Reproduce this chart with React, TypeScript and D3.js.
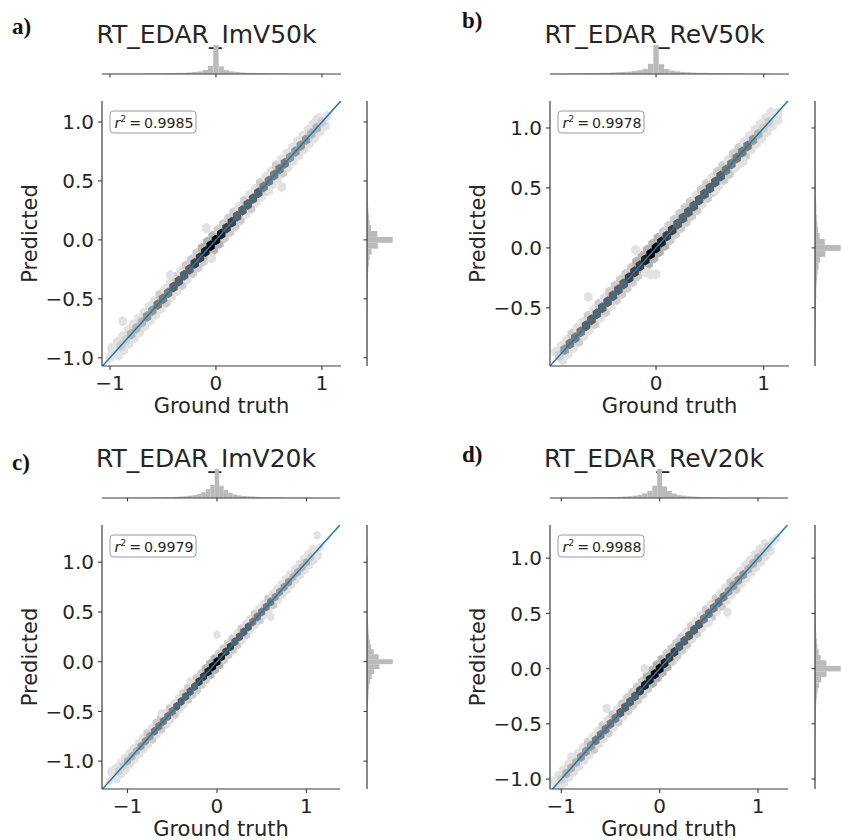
import React from "react";
import * as d3 from "d3";

// ---------- shared bin centres (histogram bins / hexbin columns along the diagonal) ----------
const binCenters = [
  -1.2, -1.15, -1.1, -1.05, -1.0, -0.95, -0.9, -0.85, -0.8, -0.75,
  -0.7, -0.65, -0.6, -0.55, -0.5, -0.45, -0.4, -0.35, -0.3, -0.25,
  -0.2, -0.15, -0.1, -0.05, 0.0, 0.05, 0.1, 0.15, 0.2, 0.25,
  0.3, 0.35, 0.4, 0.45, 0.5, 0.55, 0.6, 0.65, 0.7, 0.75,
  0.8, 0.85, 0.9, 0.95, 1.0, 1.05, 1.1, 1.15, 1.2, 1.25,
  1.3,
];
const binWidth = 0.05;

// ---------- panel a: RT_EDAR_ImV50k ----------
const titleA = "RT_EDAR_ImV50k";
const r2A = "0.9985";
const limXA = [-1.075, 1.18];
const limYA = [-1.07, 1.178];
const xTicksA = [-1, 0, 1];
const yTicksA = [-1.0, -0.5, 0.0, 0.5, 1.0];
const histTopA = [
  0, 0, 0, 0, 1, 1, 1, 1, 1, 1,
  1, 2, 2, 2, 2, 3, 3, 4, 4, 5,
  7, 9, 14, 28, 100, 26, 13, 9, 7, 5,
  4, 4, 3, 3, 2, 2, 2, 2, 1, 1,
  1, 1, 1, 1, 1, 0, 0, 0, 0, 0,
  0,
];
const histRightA = [
  0, 0, 0, 0, 1, 1, 1, 1, 1, 1,
  1, 1, 2, 2, 2, 2, 3, 3, 4, 5,
  7, 10, 18, 42, 100, 40, 16, 10, 7, 5,
  4, 3, 3, 2, 2, 2, 2, 1, 1, 1,
  1, 1, 1, 1, 1, 0, 0, 0, 0, 0,
  0,
];
const coreA = [
  0, 0, 0, 0, 1, 1, 2, 2, 3, 3,
  3, 4, 4, 5, 5, 5, 6, 6, 6, 6,
  7, 7, 8, 9, 9, 8, 7, 7, 6, 6,
  6, 6, 6, 5, 5, 5, 5, 5, 4, 4,
  4, 4, 3, 3, 2, 1, 0, 0, 0, 0,
  0,
];
const haloA = [
  0, 0, 0, 0, 0, 1, 1, 1, 1, 1,
  1, 1, 1, 1, 2, 1, 1, 2, 1, 2,
  2, 2, 3, 3, 3, 2, 2, 2, 2, 1,
  2, 1, 1, 2, 1, 1, 2, 1, 1, 1,
  1, 1, 1, 1, 1, 0, 0, 0, 0, 0,
  0,
];
const outliersA = [
  [0.62, 0.45], [-0.43, -0.3], [-0.88, -0.69], [-0.04, -0.155],
  [-0.09, 0.1], [0.95, 1.02], [-0.98, -0.95], [0.5, 0.42],
];

// ---------- panel b: RT_EDAR_ReV50k ----------
const titleB = "RT_EDAR_ReV50k";
const r2B = "0.9978";
const limXB = [-0.985, 1.235];
const limYB = [-0.985, 1.225];
const xTicksB = [0, 1];
const yTicksB = [-0.5, 0.0, 0.5, 1.0];
const histTopB = [
  0, 0, 0, 0, 0, 1, 1, 2, 2, 2,
  2, 3, 3, 3, 4, 4, 5, 6, 7, 8,
  10, 13, 18, 35, 100, 34, 17, 12, 9, 7,
  6, 5, 4, 4, 3, 3, 3, 2, 2, 2,
  2, 1, 1, 1, 1, 1, 0, 0, 0, 0,
  0,
];
const histRightB = [
  0, 0, 0, 0, 0, 1, 1, 1, 2, 2,
  2, 2, 3, 3, 3, 4, 5, 5, 6, 8,
  10, 14, 20, 40, 100, 38, 18, 12, 9, 7,
  5, 5, 4, 3, 3, 3, 2, 2, 2, 2,
  1, 1, 1, 1, 1, 1, 0, 0, 0, 0,
  0,
];
const coreB = [
  0, 0, 0, 0, 0, 0, 2, 4, 5, 5,
  5, 6, 6, 6, 6, 6, 6, 6, 6, 7,
  7, 7, 8, 9, 9, 8, 7, 7, 6, 6,
  6, 6, 6, 6, 6, 6, 6, 5, 5, 5,
  5, 5, 4, 3, 2, 2, 1, 0, 0, 0,
  0,
];
const haloB = [
  0, 0, 0, 0, 0, 0, 1, 1, 1, 2,
  1, 1, 2, 1, 2, 1, 2, 2, 2, 2,
  2, 3, 3, 3, 3, 3, 2, 2, 2, 2,
  2, 2, 1, 2, 2, 1, 2, 2, 1, 2,
  2, 1, 1, 1, 1, 1, 1, 0, 0, 0,
  0,
];
const outliersB = [
  [-0.63, -0.41], [-0.19, -0.02], [-0.05, -0.22], [0.0, -0.22],
  [0.81, 0.72], [0.77, 0.7], [1.13, 1.13], [0.55, 0.48], [-0.1, -0.2],
];

// ---------- panel c: RT_EDAR_ImV20k ----------
const titleC = "RT_EDAR_ImV20k";
const r2C = "0.9979";
const limXC = [-1.285, 1.375];
const limYC = [-1.28, 1.374];
const xTicksC = [-1, 0, 1];
const yTicksC = [-1.0, -0.5, 0.0, 0.5, 1.0];
const histTopC = [
  0, 0, 0, 0, 1, 1, 1, 1, 1, 1,
  2, 2, 2, 3, 3, 4, 5, 6, 8, 10,
  14, 20, 30, 45, 100, 42, 28, 18, 12, 9,
  7, 6, 5, 4, 3, 3, 2, 2, 2, 1,
  1, 1, 1, 1, 1, 1, 0, 0, 0, 0,
  0,
];
const histRightC = [
  0, 0, 0, 0, 1, 1, 1, 1, 1, 1,
  1, 2, 2, 2, 3, 3, 4, 5, 6, 8,
  12, 18, 28, 48, 100, 45, 26, 16, 11, 8,
  6, 5, 4, 3, 3, 2, 2, 2, 1, 1,
  1, 1, 1, 1, 1, 1, 0, 0, 0, 0,
  0,
];
const coreC = [
  1, 1, 2, 2, 3, 3, 3, 4, 4, 4,
  5, 5, 5, 5, 5, 6, 6, 6, 6, 6,
  7, 7, 8, 9, 9, 8, 7, 7, 6, 6,
  6, 6, 5, 5, 5, 5, 5, 4, 4, 4,
  4, 3, 3, 3, 3, 2, 1, 1, 0, 0,
  0,
];
const haloC = [
  0, 1, 1, 1, 1, 1, 1, 1, 1, 2,
  1, 2, 2, 1, 2, 1, 1, 2, 2, 2,
  2, 2, 3, 3, 3, 2, 2, 2, 2, 1,
  2, 1, 1, 2, 1, 1, 2, 1, 1, 1,
  1, 1, 1, 1, 1, 1, 1, 0, 0, 0,
  0,
];
const outliersC = [
  [0.0, 0.27], [1.12, 1.27], [-1.18, -1.1], [-0.62, -0.52],
  [-0.55, -0.62], [0.6, 0.45], [-0.3, -0.2],
];

// ---------- panel d: RT_EDAR_ReV20k ----------
const titleD = "RT_EDAR_ReV20k";
const r2D = "0.9988";
const limXD = [-1.115, 1.305];
const limYD = [-1.09, 1.3];
const xTicksD = [-1, 0, 1];
const yTicksD = [-1.0, -0.5, 0.0, 0.5, 1.0];
const histTopD = [
  0, 0, 0, 0, 1, 1, 1, 1, 1, 1,
  1, 2, 2, 2, 3, 3, 4, 5, 6, 8,
  11, 16, 25, 42, 100, 40, 24, 15, 10, 8,
  6, 5, 4, 3, 3, 2, 2, 2, 1, 1,
  1, 1, 1, 1, 1, 1, 0, 0, 0, 0,
  0,
];
const histRightD = [
  0, 0, 0, 0, 1, 1, 1, 1, 1, 1,
  1, 1, 2, 2, 2, 3, 3, 4, 5, 7,
  10, 15, 24, 45, 100, 44, 22, 14, 9, 7,
  5, 4, 4, 3, 3, 2, 2, 2, 1, 1,
  1, 1, 1, 1, 1, 0, 0, 0, 0, 0,
  0,
];
const coreD = [
  0, 0, 0, 1, 2, 3, 3, 3, 4, 4,
  4, 5, 5, 5, 5, 5, 6, 6, 6, 6,
  7, 8, 8, 9, 9, 8, 7, 7, 6, 6,
  6, 6, 6, 5, 5, 5, 5, 5, 4, 4,
  4, 4, 3, 3, 3, 2, 2, 1, 0, 0,
  0,
];
const haloD = [
  0, 0, 0, 1, 1, 1, 1, 1, 1, 1,
  2, 1, 1, 2, 1, 2, 1, 2, 2, 2,
  2, 2, 3, 3, 3, 3, 2, 2, 2, 2,
  1, 2, 1, 1, 2, 1, 2, 1, 1, 2,
  1, 1, 1, 1, 1, 1, 1, 0, 0, 0,
  0,
];
const outliersD = [
  [0.69, 0.51], [-0.54, -0.36], [-0.15, 0.0], [1.19, 1.18],
  [0.5, 0.42], [-0.9, -0.8],
];

// ---------- layout (pixel positions of each panel) ----------
const layouts = [
  { tag: "a)", x0: 102, x1: 341, yTop: 101, yBot: 366, spineR: 367, tagX: 12, tagY: 34 },
  { tag: "b)", x0: 550, x1: 789, yTop: 101, yBot: 366, spineR: 815, tagX: 462, tagY: 28 },
  { tag: "c)", x0: 102, x1: 340, yTop: 525, yBot: 789, spineR: 367, tagX: 12, tagY: 470 },
  { tag: "d)", x0: 550, x1: 788, yTop: 525, yBot: 789, spineR: 815, tagX: 462, tagY: 462 },
];

const panelData = [
  { title: titleA, r2: r2A, limX: limXA, limY: limYA, xTicks: xTicksA, yTicks: yTicksA, histTop: histTopA, histRight: histRightA, core: coreA, halo: haloA, outliers: outliersA },
  { title: titleB, r2: r2B, limX: limXB, limY: limYB, xTicks: xTicksB, yTicks: yTicksB, histTop: histTopB, histRight: histRightB, core: coreB, halo: haloB, outliers: outliersB },
  { title: titleC, r2: r2C, limX: limXC, limY: limYC, xTicks: xTicksC, yTicks: yTicksC, histTop: histTopC, histRight: histRightC, core: coreC, halo: haloC, outliers: outliersC },
  { title: titleD, r2: r2D, limX: limXD, limY: limYD, xTicks: xTicksD, yTicks: yTicksD, histTop: histTopD, histRight: histRightD, core: coreD, halo: haloD, outliers: outliersD },
];

const FONT = "DejaVu Sans, Verdana, sans-serif";
const INK = "#262626";
const SPINE = "#3c3c3c";
const HIST = "#bababa";
const LINE = "#1f77b4";
const HEX_R = 0.046;
const HALO_OFF = 0.032;

const minus = (s: string) => s.replace("-", "\u2212");
const shade = (level: number) => d3.interpolateGreys(0.1 + (0.9 * level) / 9);

function hexPath(cx: number, cy: number, rx: number, ry: number) {
  const pts = d3.range(6).map((k) => {
    const a = Math.PI / 6 + (Math.PI / 3) * k;
    return [cx + rx * Math.cos(a), cy + ry * Math.sin(a)] as [number, number];
  });
  return (d3.line()(pts) || "") + "Z";
}

function Panel({ d, L, idx }: { d: any; L: any; idx: number }) {
  const x = d3.scaleLinear().domain(d.limX).range([L.x0, L.x1]);
  const y = d3.scaleLinear().domain(d.limY).range([L.yBot, L.yTop]);
  const histBase = L.yTop - 27;
  const hTop = d3.scaleLinear().domain([0, 105]).range([0, 30.5]);
  const wRight = d3.scaleLinear().domain([0, 105]).range([0, 27]);
  const rx = x(HEX_R) - x(0);
  const ry = y(0) - y(HEX_R);
  const clipId = `clip-${idx}`;
  const half = binWidth / 2;
  const [xmin, xmax] = d.limX;
  const [ymin, ymax] = d.limY;
  const lo = Math.max(xmin, ymin);
  const hi = Math.min(xmax, ymax);

  const hexes: any[] = [];
  binCenters.forEach((g, i) => {
    const h = d.halo[i];
    if (h > 0) {
      hexes.push({ gx: g + HALO_OFF, gy: g - HALO_OFF, lv: h, k: `h1-${i}` });
      hexes.push({ gx: g - HALO_OFF, gy: g + HALO_OFF, lv: h, k: `h2-${i}` });
    }
  });
  d.outliers.forEach((p: number[], i: number) => hexes.push({ gx: p[0], gy: p[1], lv: 1, k: `o-${i}` }));
  binCenters.forEach((g, i) => {
    const c = d.core[i];
    if (c > 0) hexes.push({ gx: g, gy: g, lv: c, k: `c-${i}` });
  });

  const fmtY = (v: number) => minus(d3.format(".1f")(v));
  const fmtX = (v: number) => minus(d3.format("d")(v));

  return (
    <g>
      <defs>
        <clipPath id={clipId}>
          <rect x={L.x0} y={L.yTop} width={L.x1 - L.x0} height={L.yBot - L.yTop} />
        </clipPath>
      </defs>

      {/* panel tag */}
      <text x={L.tagX} y={L.tagY} fontFamily="Liberation Serif, Times New Roman, serif" fontWeight="bold" fontSize={23} fill="#111">
        {L.tag}
      </text>

      {/* title */}
      <text x={(L.x0 + L.x1) / 2 - 15} y={histBase - 31} textAnchor="middle" fontFamily={FONT} fontSize={25} fill={INK}>
        {d.title}
      </text>

      {/* top marginal histogram */}
      <g>
        {binCenters.map((c, i) => {
          const a = Math.max(c - half, xmin);
          const b = Math.min(c + half, xmax);
          if (b <= a || d.histTop[i] <= 0) return null;
          const h = hTop(d.histTop[i]);
          return <rect key={i} x={x(a)} y={histBase - h} width={x(b) - x(a)} height={h} fill={HIST} />;
        })}
        <line x1={L.x0} x2={L.x1} y1={histBase} y2={histBase} stroke={SPINE} strokeWidth={1.2} />
        {d.xTicks.map((t: number) => (
          <line key={t} x1={x(t)} x2={x(t)} y1={histBase} y2={histBase + 3.5} stroke={SPINE} strokeWidth={1.1} />
        ))}
      </g>

      {/* right marginal histogram */}
      <g>
        {binCenters.map((c, i) => {
          const a = Math.max(c - half, ymin);
          const b = Math.min(c + half, ymax);
          if (b <= a || d.histRight[i] <= 0) return null;
          const w = wRight(d.histRight[i]);
          return <rect key={i} x={L.spineR} y={y(b)} width={w} height={y(a) - y(b)} fill={HIST} />;
        })}
        <line x1={L.spineR} x2={L.spineR} y1={L.yTop} y2={L.yBot} stroke={SPINE} strokeWidth={1.2} />
        {d.yTicks.map((t: number) => (
          <line key={t} x1={L.spineR - 3.5} x2={L.spineR} y1={y(t)} y2={y(t)} stroke={SPINE} strokeWidth={1.1} />
        ))}
      </g>

      {/* hexbin cells */}
      <g clipPath={`url(#${clipId})`}>
        {hexes.map((hx) => (
          <path key={hx.k} d={hexPath(x(hx.gx), y(hx.gy), rx, ry)} fill={shade(hx.lv)} stroke="none" />
        ))}
        <line x1={x(lo)} y1={y(lo)} x2={x(hi)} y2={y(hi)} stroke={LINE} strokeWidth={1.5} />
      </g>

      {/* spines */}
      <line x1={L.x0} x2={L.x0} y1={L.yTop} y2={L.yBot} stroke={SPINE} strokeWidth={1.2} />
      <line x1={L.x0} x2={L.x1} y1={L.yBot} y2={L.yBot} stroke={SPINE} strokeWidth={1.2} />

      {/* y ticks */}
      {d.yTicks.map((t: number) => (
        <g key={t}>
          <line x1={L.x0 - 4} x2={L.x0} y1={y(t)} y2={y(t)} stroke={SPINE} strokeWidth={1.1} />
          <text x={L.x0 - 8} y={y(t)} dy="0.36em" textAnchor="end" fontFamily={FONT} fontSize={20} fill={INK}>
            {fmtY(t)}
          </text>
        </g>
      ))}
      {/* x ticks */}
      {d.xTicks.map((t: number) => (
        <g key={t}>
          <line x1={x(t)} x2={x(t)} y1={L.yBot} y2={L.yBot + 4} stroke={SPINE} strokeWidth={1.1} />
          <text x={x(t)} y={L.yBot + 24} textAnchor="middle" fontFamily={FONT} fontSize={20} fill={INK}>
            {fmtX(t)}
          </text>
        </g>
      ))}

      {/* axis labels */}
      <text x={(L.x0 + L.x1) / 2} y={L.yBot + 47} textAnchor="middle" fontFamily={FONT} fontSize={21} fill={INK}>
        Ground truth
      </text>
      <text
        transform={`translate(${L.x0 - 72},${(L.yTop + L.yBot) / 2}) rotate(-90)`}
        textAnchor="middle"
        dy="0.35em"
        fontFamily={FONT}
        fontSize={21}
        fill={INK}
      >
        Predicted
      </text>

      {/* r^2 box */}
      <rect x={L.x0 + 8} y={L.yTop + 10} width={86} height={22} rx={3.5} fill="white" stroke="#9a9a9a" strokeWidth={1} />
      <text x={L.x0 + 12.5} y={L.yTop + 26.5} fontFamily={FONT} fontSize={14.2} fill={INK}>
        <tspan fontStyle="italic">r</tspan>
        <tspan fontSize={9.5} dy={-6}>2</tspan>
        <tspan dy={6}>{`\u2009=\u2009${d.r2}`}</tspan>
      </text>
    </g>
  );
}

export default function App() {
  return (
    <svg
      width={841}
      height={840}
      viewBox="0 0 841 840"
      style={{ position: "absolute", left: 0, top: 0, background: "white" }}
    >
      <rect x={0} y={0} width={841} height={840} fill="white" />
      {panelData.map((d, i) => (
        <Panel key={i} d={d} L={layouts[i]} idx={i} />
      ))}
    </svg>
  );
}
